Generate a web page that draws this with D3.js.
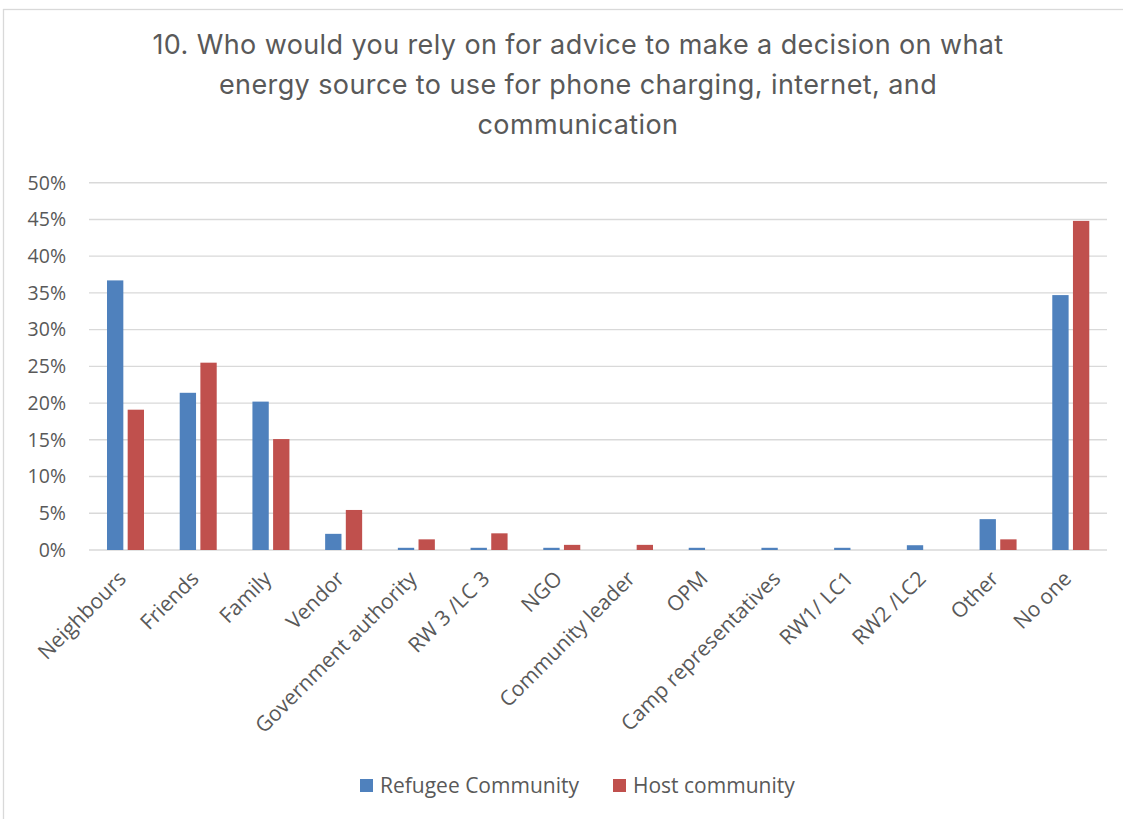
<!DOCTYPE html>
<html>
<head>
<meta charset="utf-8">
<script src="https://cdn.jsdelivr.net/npm/d3@7"></script>
<style>
  html, body { margin: 0; padding: 0; background: #fff; }
  svg { display: block; }
</style>
</head>
<body>
<svg id="chart" width="1123" height="819"></svg>
<script>
// Who people rely on for advice (share of respondents, %)
const categories = [
  "Neighbours", "Friends", "Family", "Vendor", "Government authority",
  "RW 3 /LC 3", "NGO", "Community leader", "OPM", "Camp representatives",
  "RW1/ LC1", "RW2 /LC2", "Other", "No one"
];
const seriesNames = ["Refugee Community", "Host community"];
const refugeeValues = [36.7, 21.4, 20.2, 2.2, 0.3, 0.3, 0.3, 0, 0.3, 0.3, 0.3, 0.65, 4.2, 34.7];
const hostValues    = [19.1, 25.5, 15.1, 5.45, 1.45, 2.27, 0.7, 0.7, 0, 0, 0, 0, 1.45, 44.8];
const yTicks = [0, 5, 10, 15, 20, 25, 30, 35, 40, 45, 50];
const titleLines = [
  "10. Who would you rely on for advice to make a decision on what",
  "energy source to use for phone charging, internet, and",
  "communication"
];

const colors = { "Refugee Community": "#4F81BD", "Host community": "#C0504D" };
const labelFont = "'Open Sans', 'Noto Sans', sans-serif";

const svg = d3.select("#chart");

// outer chart frame
svg.append("rect")
  .attr("x", 3.5).attr("y", 9.5)
  .attr("width", 1300).attr("height", 1000)
  .attr("fill", "#fff")
  .attr("stroke", "#d9d9d9").attr("stroke-width", 1.3);

// title
const title = svg.append("text")
  .attr("text-anchor", "middle")
  .attr("font-family", "Inter, 'Open Sans', sans-serif")
  .attr("font-size", 27)
  .attr("letter-spacing", 0.4)
  .attr("fill", "#595959");
titleLines.forEach((line, i) => {
  title.append("tspan").attr("x", 578).attr("y", 54 + i * 40).text(line);
});

// scales
const x0 = d3.scaleBand().domain(categories).range([89, 1107]);
const x1 = d3.scaleBand().domain(seriesNames).range([18, 55]).paddingInner(0.21);
const y = d3.scaleLinear().domain([0, 50]).range([550, 182.7]);

// gridlines
svg.append("g")
  .selectAll("line")
  .data(yTicks)
  .join("line")
  .attr("x1", 89).attr("x2", 1107)
  .attr("y1", d => y(d)).attr("y2", d => y(d))
  .attr("stroke", "#d9d9d9").attr("stroke-width", 1.4);

// y-axis labels
svg.append("g")
  .selectAll("text")
  .data(yTicks)
  .join("text")
  .attr("x", 66)
  .attr("y", d => y(d))
  .attr("dy", "0.35em")
  .attr("text-anchor", "end")
  .attr("font-family", labelFont)
  .attr("font-size", 19.5)
  .attr("fill", "#595959")
  .text(d => d3.format(".0%")(d / 100));

// bars
const rows = categories.map((c, i) => ({
  category: c,
  values: [
    { series: seriesNames[0], value: refugeeValues[i] },
    { series: seriesNames[1], value: hostValues[i] }
  ]
}));

svg.append("g")
  .selectAll("g")
  .data(rows)
  .join("g")
  .attr("transform", d => `translate(${x0(d.category)},0)`)
  .selectAll("rect")
  .data(d => d.values.filter(v => v.value > 0))
  .join("rect")
  .attr("x", d => x1(d.series))
  .attr("width", x1.bandwidth())
  .attr("y", d => y(d.value))
  .attr("height", d => y(0) - y(d.value))
  .attr("fill", d => colors[d.series]);

// category labels, rotated
svg.append("g")
  .selectAll("text")
  .data(categories)
  .join("text")
  .attr("transform", d => `translate(${x0(d) + x0.bandwidth() / 2 + 2},${580}) rotate(-45)`)
  .attr("text-anchor", "end")
  .attr("font-family", labelFont)
  .attr("font-size", 21)
  .attr("fill", "#595959")
  .text(d => d);

// legend
const legend = svg.append("g");
const legendX = [360, 613];
seriesNames.forEach((s, i) => {
  legend.append("rect")
    .attr("x", legendX[i]).attr("y", 779)
    .attr("width", 13).attr("height", 13)
    .attr("fill", colors[s]);
  legend.append("text")
    .attr("x", legendX[i] + 20).attr("y", 793)
    .attr("font-family", labelFont)
    .attr("font-size", 21)
    .attr("fill", "#595959")
    .text(s);
});
</script>
</body>
</html>
